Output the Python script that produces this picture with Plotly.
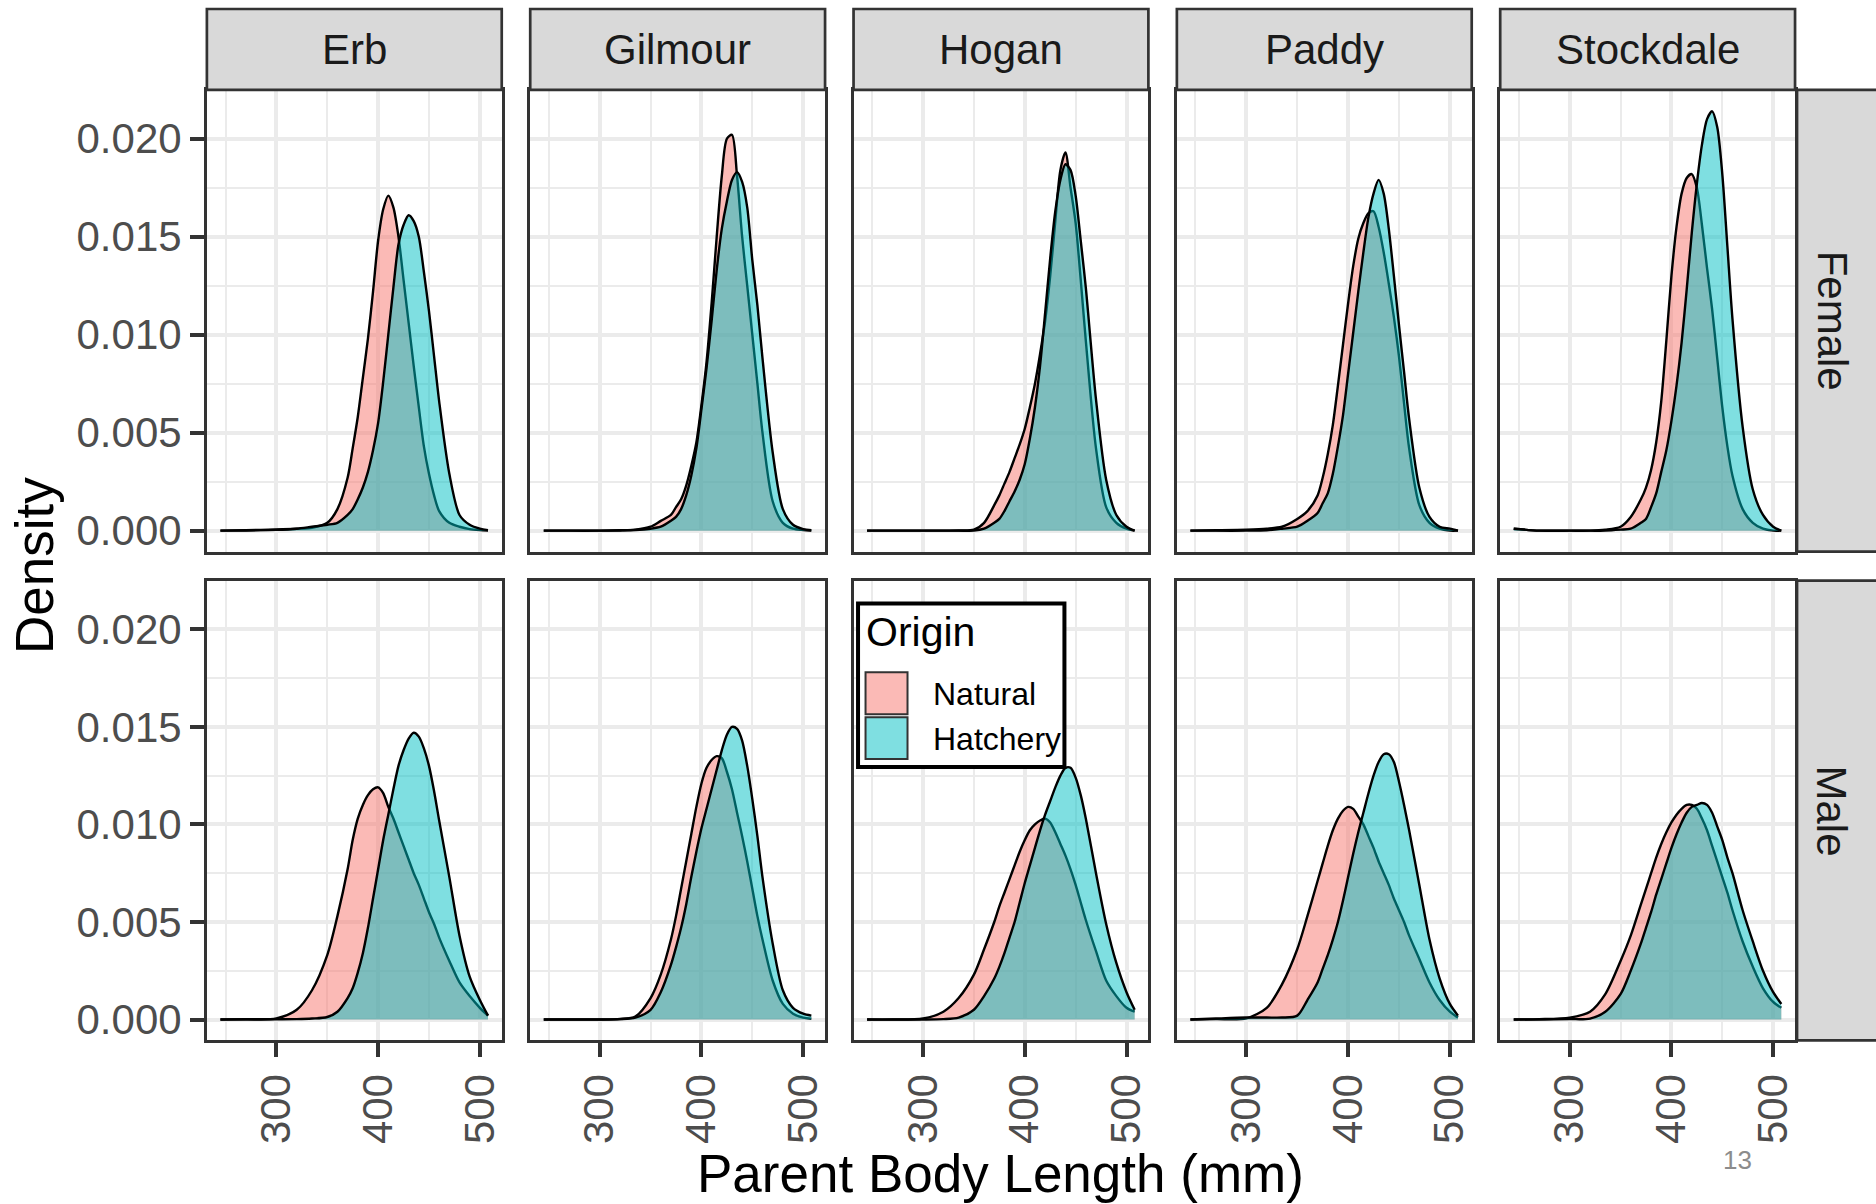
import plotly.graph_objects as go

# Kernel density estimates of parent body length, read on a common grid (mm)
length_mm = [245, 270, 300, 320, 335, 350, 360, 370, 375, 380, 385, 390, 395, 400, 405,
             410, 415, 420, 425, 430, 435, 440, 445, 450, 455, 460, 470, 480, 490, 500, 508]

rivers = ["Erb", "Gilmour", "Hogan", "Paddy", "Stockdale"]
sexes = ["Female", "Male"]
origins = ["Natural", "Hatchery"]

erb_female_natural = [0, 0.00002, 0.00006, 0.0001, 0.00015, 0.0004, 0.0011, 0.0027, 0.0042, 0.0058,
                      0.0078, 0.0098, 0.0122, 0.0148, 0.0164, 0.0171, 0.0165, 0.0150, 0.0128, 0.0106,
                      0.0084, 0.0063, 0.0043, 0.0029, 0.0018, 0.0010, 0.0004, 0.0002, 0.00008, 0.00003, 0.00001]
erb_female_hatchery = [0, 0.00001, 0.00004, 0.0001, 0.0002, 0.0003, 0.0004, 0.0008, 0.0011, 0.0016,
                       0.0022, 0.0030, 0.0041, 0.0055, 0.0076, 0.0100, 0.0124, 0.0146, 0.0156, 0.0161,
                       0.0158, 0.0150, 0.0132, 0.0112, 0.0089, 0.0066, 0.0029, 0.0008, 0.0003, 0.0001, 0.00003]
erb_male_natural = [0, 0.00002, 0.00006, 0.0005, 0.0015, 0.0033, 0.0053, 0.0077, 0.0092, 0.0103,
                    0.0110, 0.0115, 0.0118, 0.0119, 0.0116, 0.0109, 0.0103, 0.0096, 0.0089, 0.0082,
                    0.0075, 0.0069, 0.0062, 0.0055, 0.0049, 0.0042, 0.0030, 0.0019, 0.0012, 0.0006, 0.0002]
erb_male_hatchery = [0, 0, 0.00001, 0.00002, 0.00005, 0.00013, 0.0004, 0.0011, 0.0016, 0.0024,
                     0.0034, 0.0047, 0.0062, 0.0077, 0.0092, 0.0105, 0.0118, 0.0130, 0.0138, 0.0144,
                     0.0147, 0.0145, 0.0139, 0.0130, 0.0117, 0.0102, 0.0073, 0.0043, 0.0022, 0.0010, 0.0002]

gilmour_female_natural = [0, 0, 0, 0.00002, 0.00005, 0.0002, 0.0005, 0.0008, 0.0012, 0.0016,
                          0.0023, 0.0033, 0.0045, 0.0064, 0.0086, 0.0116, 0.0150, 0.0181, 0.0200, 0.0202,
                          0.0181, 0.0150, 0.0125, 0.0100, 0.0075, 0.0050, 0.0015, 0.0004, 0.0001, 0.00003, 0]
gilmour_female_hatchery = [0, 0, 0, 0.00001, 0.00003, 0.0001, 0.0002, 0.0005, 0.0007, 0.0011,
                           0.0018, 0.0028, 0.0042, 0.0062, 0.0083, 0.0107, 0.0133, 0.0154, 0.0168, 0.0179,
                           0.0183, 0.0178, 0.0165, 0.0138, 0.0115, 0.0088, 0.0040, 0.0011, 0.0003, 0.00008, 0.00002]
gilmour_male_natural = [0, 0, 0, 0.00003, 0.00015, 0.0011, 0.0023, 0.0041, 0.0053, 0.0067,
                        0.0081, 0.0095, 0.0109, 0.0121, 0.0129, 0.0133, 0.0135, 0.0134, 0.0127, 0.0118,
                        0.0106, 0.0094, 0.0081, 0.0067, 0.0053, 0.0041, 0.0020, 0.0008, 0.0003, 0.0001, 0.00004]
gilmour_male_hatchery = [0, 0, 0, 0.00002, 0.0001, 0.0005, 0.0014, 0.0028, 0.0037, 0.0047,
                         0.0059, 0.0073, 0.0086, 0.0098, 0.0108, 0.0118, 0.0128, 0.0138, 0.0146, 0.0150,
                         0.0149, 0.0143, 0.0130, 0.0113, 0.0094, 0.0073, 0.0039, 0.0015, 0.0006, 0.0003, 0.0002]

hogan_female_natural = [0, 0, 0, 0, 0.00001, 0.00005, 0.0004, 0.0013, 0.0018, 0.0024,
                        0.0030, 0.0037, 0.0044, 0.0052, 0.0063, 0.0075, 0.0090, 0.0107, 0.0130, 0.0158,
                        0.0184, 0.0193, 0.0175, 0.0157, 0.0128, 0.0097, 0.0042, 0.0012, 0.0004, 0.0001, 0]
hogan_female_hatchery = [0, 0, 0, 0, 0, 0, 0.0001, 0.0004, 0.0006, 0.0010,
                         0.0015, 0.0020, 0.0026, 0.0034, 0.0047, 0.0063, 0.0084, 0.0111, 0.0139, 0.0163,
                         0.0179, 0.0187, 0.0184, 0.0171, 0.0148, 0.0124, 0.0067, 0.0026, 0.0008, 0.0002, 0]
hogan_male_natural = [0, 0, 0.00005, 0.0004, 0.0011, 0.0023, 0.0036, 0.0050, 0.0058, 0.0065,
                      0.0072, 0.0079, 0.0086, 0.0092, 0.0097, 0.0100, 0.0102, 0.0103, 0.0101, 0.0096,
                      0.0090, 0.0084, 0.0077, 0.0069, 0.0060, 0.0051, 0.0035, 0.0020, 0.0012, 0.0006, 0.0004]
hogan_male_hatchery = [0, 0, 0, 0.00002, 0.0001, 0.0005, 0.0012, 0.0021, 0.0027, 0.0034,
                       0.0042, 0.0050, 0.0060, 0.0070, 0.0079, 0.0088, 0.0097, 0.0105, 0.0112, 0.0119,
                       0.0125, 0.0129, 0.0129, 0.0124, 0.0115, 0.0103, 0.0075, 0.0049, 0.0029, 0.0014, 0.0005]

paddy_female_natural = [0, 0.00002, 0.00005, 0.0001, 0.0002, 0.0006, 0.0010, 0.0018, 0.0027, 0.0039,
                        0.0054, 0.0074, 0.0095, 0.0116, 0.0135, 0.0149, 0.0157, 0.0162, 0.0163, 0.0155,
                        0.0142, 0.0126, 0.0109, 0.0089, 0.0065, 0.0042, 0.0013, 0.0004, 0.0001, 0, 0]
paddy_female_hatchery = [0, 0, 0, 0.00002, 0.0001, 0.0002, 0.0005, 0.0009, 0.0014, 0.0019,
                         0.0029, 0.0043, 0.0059, 0.0080, 0.0101, 0.0122, 0.0142, 0.0160, 0.0172, 0.0179,
                         0.0172, 0.0154, 0.0130, 0.0105, 0.0081, 0.0057, 0.0022, 0.0007, 0.0002, 0.0001, 0]
paddy_male_natural = [0, 0.00002, 0.00006, 0.0006, 0.0018, 0.0036, 0.0053, 0.0071, 0.0080, 0.0089,
                      0.0097, 0.0103, 0.0107, 0.0109, 0.0108, 0.0104, 0.0100, 0.0094, 0.0088, 0.0081,
                      0.0075, 0.0069, 0.0062, 0.0056, 0.0050, 0.0043, 0.0031, 0.0019, 0.0010, 0.0004, 0.0001]
paddy_male_hatchery = [0, 0.00005, 0.0001, 0.0001, 0.0001, 0.0002, 0.0010, 0.0019, 0.0026, 0.0033,
                       0.0041, 0.0050, 0.0061, 0.0073, 0.0085, 0.0096, 0.0106, 0.0116, 0.0125, 0.0132,
                       0.0136, 0.0136, 0.0132, 0.0122, 0.0110, 0.0097, 0.0069, 0.0041, 0.0021, 0.0008, 0.0002]

stockdale_female_natural = [0.0001, 0, 0, 0, 0.00005, 0.0002, 0.0007, 0.0016, 0.0022, 0.0031,
                            0.0045, 0.0066, 0.0097, 0.0130, 0.0155, 0.0172, 0.0180, 0.0182, 0.0175, 0.0156,
                            0.0134, 0.0113, 0.0088, 0.0063, 0.0043, 0.0028, 0.0011, 0.0004, 0.0001, 0, 0]
stockdale_female_hatchery = [0.0001, 0, 0, 0, 0, 0.00005, 0.0001, 0.0004, 0.0006, 0.0012,
                             0.0019, 0.0030, 0.0041, 0.0056, 0.0074, 0.0096, 0.0123, 0.0152, 0.0177, 0.0197,
                             0.0210, 0.0214, 0.0206, 0.0182, 0.0145, 0.0108, 0.0053, 0.0021, 0.0008, 0.0002, 0]
stockdale_male_natural = [0, 0.00002, 0.0001, 0.0004, 0.0013, 0.0030, 0.0043, 0.0059, 0.0067, 0.0075,
                          0.0083, 0.0090, 0.0096, 0.0101, 0.0105, 0.0108, 0.0110, 0.0110, 0.0108, 0.0103,
                          0.0097, 0.0089, 0.0081, 0.0073, 0.0065, 0.0056, 0.0040, 0.0027, 0.0016, 0.0009, 0.0006]
stockdale_male_hatchery = [0, 0, 0.00002, 0.00005, 0.0004, 0.0013, 0.0025, 0.0039, 0.0047, 0.0055,
                           0.0064, 0.0072, 0.0080, 0.0088, 0.0095, 0.0101, 0.0106, 0.0109, 0.0110, 0.0111,
                           0.0110, 0.0106, 0.0099, 0.0092, 0.0083, 0.0075, 0.0056, 0.0040, 0.0025, 0.0014, 0.0008]

x_ticks = [300, 400, 500]
y_ticks = [0.000, 0.005, 0.010, 0.015, 0.020]

densities = {
    ("Erb", "Female"): (erb_female_natural, erb_female_hatchery),
    ("Erb", "Male"): (erb_male_natural, erb_male_hatchery),
    ("Gilmour", "Female"): (gilmour_female_natural, gilmour_female_hatchery),
    ("Gilmour", "Male"): (gilmour_male_natural, gilmour_male_hatchery),
    ("Hogan", "Female"): (hogan_female_natural, hogan_female_hatchery),
    ("Hogan", "Male"): (hogan_male_natural, hogan_male_hatchery),
    ("Paddy", "Female"): (paddy_female_natural, paddy_female_hatchery),
    ("Paddy", "Male"): (paddy_male_natural, paddy_male_hatchery),
    ("Stockdale", "Female"): (stockdale_female_natural, stockdale_female_hatchery),
    ("Stockdale", "Male"): (stockdale_male_natural, stockdale_male_hatchery),
}

# ---- page geometry (pixels) ----
W, H = 1876, 1204
FONT = "Liberation Sans, Arial, sans-serif"
col_left = [207, 530.5, 854, 1177.5, 1501]
panel_w = 295
row_top = [90, 582]
row_bottom = [553, 1043]
strip_top, strip_bottom = 9, 90
rstrip_left = 1798

fill_colors = {"Natural": "rgba(248,118,109,0.5)", "Hatchery": "rgba(0,191,196,0.5)"}
GRID = "#EBEBEB"
DARK = "#333333"


def px(v):
    return v / W


def py(v):
    return 1 - v / H


fig = go.Figure()
layout = dict(
    width=W, height=H,
    margin=dict(l=0, r=0, t=0, b=0),
    paper_bgcolor="white", plot_bgcolor="white",
    font=dict(family=FONT, color="black"),
    showlegend=False,
    shapes=[], annotations=[],
)

for r, sex in enumerate(sexes):
    for c, river in enumerate(rivers):
        k = r * len(rivers) + c + 1
        xa = "x" if k == 1 else f"x{k}"
        ya = "y" if k == 1 else f"y{k}"
        nat, hat = densities[(river, sex)]
        for origin, vals in zip(origins, (nat, hat)):
            fig.add_trace(go.Scatter(
                x=length_mm, y=vals, mode="lines",
                line=dict(color="black", width=2.4, shape="spline", smoothing=0.8),
                fill="tozeroy", fillcolor=fill_colors[origin],
                name=origin, xaxis=xa, yaxis=ya, hoverinfo="skip",
            ))
        bottom = r == len(sexes) - 1
        first = c == 0
        layout["xaxis" if k == 1 else f"xaxis{k}"] = dict(
            domain=[px(col_left[c]), px(col_left[c] + panel_w)],
            anchor=ya, range=[231.7, 521.5],
            tickmode="array", tickvals=x_ticks, ticktext=[str(v) for v in x_ticks],
            showgrid=True, gridcolor=GRID, gridwidth=4,
            minor=dict(tickmode="array", tickvals=[250, 350, 450], showgrid=True,
                       gridcolor=GRID, gridwidth=2.2, ticks=""),
            zeroline=False, showline=True, linecolor=DARK, linewidth=2.7, mirror=True,
            ticks="outside" if bottom else "", ticklen=14, tickwidth=3.5, tickcolor=DARK,
            showticklabels=bottom, tickangle=-90,
            tickfont=dict(size=42, color="#4D4D4D", family=FONT),
            fixedrange=True,
        )
        layout["yaxis" if k == 1 else f"yaxis{k}"] = dict(
            domain=[py(row_bottom[r]), py(row_top[r])],
            anchor=xa, range=[-0.00107, 0.0225],
            tickmode="array", tickvals=y_ticks, ticktext=[f"{v:.3f}" for v in y_ticks],
            showgrid=True, gridcolor=GRID, gridwidth=4,
            minor=dict(tickmode="array", tickvals=[0.0025, 0.0075, 0.0125, 0.0175, 0.0225],
                       showgrid=True, gridcolor=GRID, gridwidth=2.2, ticks=""),
            zeroline=False, showline=True, linecolor=DARK, linewidth=2.7, mirror=True,
            ticks="outside" if first else "", ticklen=14, tickwidth=3.5, tickcolor=DARK,
            showticklabels=first,
            tickfont=dict(size=42, color="#4D4D4D", family=FONT),
            fixedrange=True,
        )

# facet strips along the top (river)
for c, river in enumerate(rivers):
    layout["shapes"].append(dict(
        type="rect", xref="paper", yref="paper",
        x0=px(col_left[c]), x1=px(col_left[c] + panel_w),
        y0=py(strip_bottom), y1=py(strip_top),
        fillcolor="#D9D9D9", line=dict(color=DARK, width=2.7), layer="above",
    ))
    layout["annotations"].append(dict(
        text=river, xref="paper", yref="paper",
        x=px(col_left[c] + panel_w / 2), y=py((strip_top + strip_bottom) / 2),
        showarrow=False, xanchor="center", yanchor="middle",
        font=dict(size=42, color="#1A1A1A", family=FONT),
    ))

# facet strips on the right (sex)
for r, sex in enumerate(sexes):
    layout["shapes"].append(dict(
        type="rect", xref="paper", yref="paper",
        x0=px(rstrip_left), x1=px(W + 4),
        y0=py(row_bottom[r]), y1=py(row_top[r]),
        fillcolor="#D9D9D9", line=dict(color=DARK, width=2.7), layer="above",
    ))
    layout["annotations"].append(dict(
        text=sex, xref="paper", yref="paper",
        x=px(1833), y=py((row_top[r] + row_bottom[r]) / 2),
        showarrow=False, xanchor="center", yanchor="middle", textangle=90,
        font=dict(size=42, color="#1A1A1A", family=FONT),
    ))

# axis titles
layout["annotations"].append(dict(
    text="Parent Body Length (mm)", xref="paper", yref="paper",
    x=px((col_left[0] + col_left[-1] + panel_w) / 2), y=py(1176),
    showarrow=False, xanchor="center", yanchor="middle",
    font=dict(size=53, color="black", family=FONT),
))
layout["annotations"].append(dict(
    text="Density", xref="paper", yref="paper",
    x=px(34), y=py((row_top[0] + row_bottom[1]) / 2),
    showarrow=False, xanchor="center", yanchor="middle", textangle=-90,
    font=dict(size=53, color="black", family=FONT),
))

# legend box inside the Hogan / Male panel
leg_x0, leg_y0, leg_x1, leg_y1 = 858.5, 605, 1065, 769
layout["shapes"].append(dict(
    type="rect", xref="paper", yref="paper",
    x0=px(leg_x0), x1=px(leg_x1), y0=py(leg_y1), y1=py(leg_y0),
    fillcolor="white", line=dict(color="black", width=4), layer="above",
))
layout["annotations"].append(dict(
    text="Origin", xref="paper", yref="paper", x=px(864), y=py(634),
    showarrow=False, xanchor="left", yanchor="middle",
    font=dict(size=41, color="black", family=FONT),
))
for i, origin in enumerate(origins):
    top = 674 + i * 45
    layout["shapes"].append(dict(
        type="rect", xref="paper", yref="paper",
        x0=px(866), x1=px(908), y0=py(top + 42), y1=py(top),
        fillcolor=fill_colors[origin], line=dict(color=DARK, width=2), layer="above",
    ))
    layout["annotations"].append(dict(
        text=origin, xref="paper", yref="paper", x=px(931), y=py(top + 22),
        showarrow=False, xanchor="left", yanchor="middle",
        font=dict(size=32, color="black", family=FONT),
    ))

# slide number
layout["annotations"].append(dict(
    text="13", xref="paper", yref="paper", x=px(1738), y=py(1163),
    showarrow=False, xanchor="center", yanchor="middle",
    font=dict(size=26, color="#8C8C8C", family=FONT),
))

fig.update_layout(**layout)
fig.write_html("out.html")
